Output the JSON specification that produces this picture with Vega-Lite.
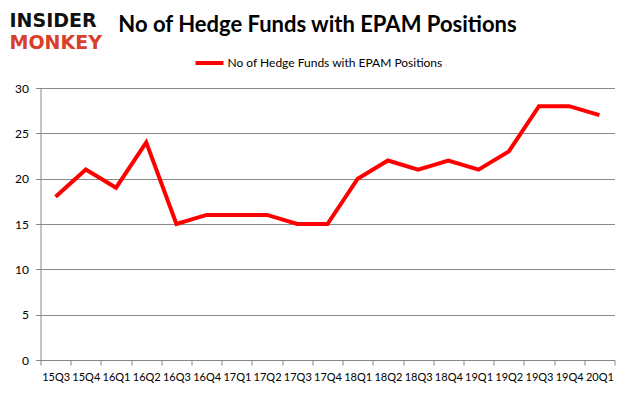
{
  "$schema": "https://vega.github.io/schema/vega-lite/v6.json",
  "autosize": {"type": "none"},
  "width": 574,
  "height": 272,
  "padding": {"left": 40.5, "top": 88, "right": 20.5, "bottom": 45},
  "background": "#ffffff",
  "title": {
    "text": "No of Hedge Funds with EPAM Positions",
    "font": "Lato",
    "fontSize": 22,
    "fontWeight": "bold",
    "color": "#000000",
    "anchor": "middle",
    "frame": "group",
    "baseline": "alphabetic",
    "dx": -10,
    "offset": -43
  },
  "data": {
    "values": [
      {"quarter": "15Q3", "funds": 18, "series": "No of Hedge Funds with EPAM Positions"},
      {"quarter": "15Q4", "funds": 21, "series": "No of Hedge Funds with EPAM Positions"},
      {"quarter": "16Q1", "funds": 19, "series": "No of Hedge Funds with EPAM Positions"},
      {"quarter": "16Q2", "funds": 24, "series": "No of Hedge Funds with EPAM Positions"},
      {"quarter": "16Q3", "funds": 15, "series": "No of Hedge Funds with EPAM Positions"},
      {"quarter": "16Q4", "funds": 16, "series": "No of Hedge Funds with EPAM Positions"},
      {"quarter": "17Q1", "funds": 16, "series": "No of Hedge Funds with EPAM Positions"},
      {"quarter": "17Q2", "funds": 16, "series": "No of Hedge Funds with EPAM Positions"},
      {"quarter": "17Q3", "funds": 15, "series": "No of Hedge Funds with EPAM Positions"},
      {"quarter": "17Q4", "funds": 15, "series": "No of Hedge Funds with EPAM Positions"},
      {"quarter": "18Q1", "funds": 20, "series": "No of Hedge Funds with EPAM Positions"},
      {"quarter": "18Q2", "funds": 22, "series": "No of Hedge Funds with EPAM Positions"},
      {"quarter": "18Q3", "funds": 21, "series": "No of Hedge Funds with EPAM Positions"},
      {"quarter": "18Q4", "funds": 22, "series": "No of Hedge Funds with EPAM Positions"},
      {"quarter": "19Q1", "funds": 21, "series": "No of Hedge Funds with EPAM Positions"},
      {"quarter": "19Q2", "funds": 23, "series": "No of Hedge Funds with EPAM Positions"},
      {"quarter": "19Q3", "funds": 28, "series": "No of Hedge Funds with EPAM Positions"},
      {"quarter": "19Q4", "funds": 28, "series": "No of Hedge Funds with EPAM Positions"},
      {"quarter": "20Q1", "funds": 27, "series": "No of Hedge Funds with EPAM Positions"}
    ]
  },
  "mark": {"type": "line", "strokeWidth": 4, "strokeJoin": "miter", "strokeCap": "butt"},
  "encoding": {
    "x": {
      "field": "quarter",
      "type": "ordinal",
      "sort": null,
      "scale": {"type": "band", "paddingInner": 0, "paddingOuter": 0},
      "axis": {
        "title": "MONKEY",
        "titleFont": "DejaVu Sans",
        "titleFontWeight": "bold",
        "titleFontSize": 19,
        "titleColor": "#d8402c",
        "titleAngle": 0,
        "titleAlign": "left",
        "titleBaseline": "alphabetic",
        "titleX": -31.5,
        "titleY": -312,
        "labelAngle": 0,
        "labelFont": "Lato",
        "labelFontSize": 11,
        "labelColor": "#000000",
        "labelPadding": 6,
        "tickBand": "extent",
        "tickSize": 5,
        "tickColor": "#888888",
        "domainColor": "#888888",
        "grid": false
      }
    },
    "y": {
      "field": "funds",
      "type": "quantitative",
      "scale": {"domain": [0, 30], "nice": false},
      "axis": {
        "title": "INSIDER",
        "titleFont": "DejaVu Sans",
        "titleFontWeight": "bold",
        "titleFontSize": 19,
        "titleColor": "#111111",
        "titleAngle": 0,
        "titleAlign": "left",
        "titleBaseline": "alphabetic",
        "titleX": -31.5,
        "titleY": -62,
        "values": [0, 5, 10, 15, 20, 25, 30],
        "labelFont": "Lato",
        "labelFontSize": 12,
        "labelColor": "#000000",
        "labelPadding": 7,
        "tickSize": 5,
        "tickColor": "#888888",
        "domainColor": "#888888",
        "grid": true,
        "gridColor": "#888888"
      }
    },
    "color": {
      "field": "series",
      "type": "nominal",
      "scale": {"range": ["#ff0000"]},
      "legend": {
        "title": null,
        "orient": "none",
        "legendX": 153,
        "legendY": -41,
        "symbolType": "stroke",
        "symbolSize": 784,
        "symbolStrokeWidth": 4,
        "labelFont": "Lato",
        "labelFontSize": 12,
        "labelColor": "#000000",
        "labelOffset": 2,
        "labelLimit": 400
      }
    }
  },
  "config": {"view": {"stroke": null}}
}
